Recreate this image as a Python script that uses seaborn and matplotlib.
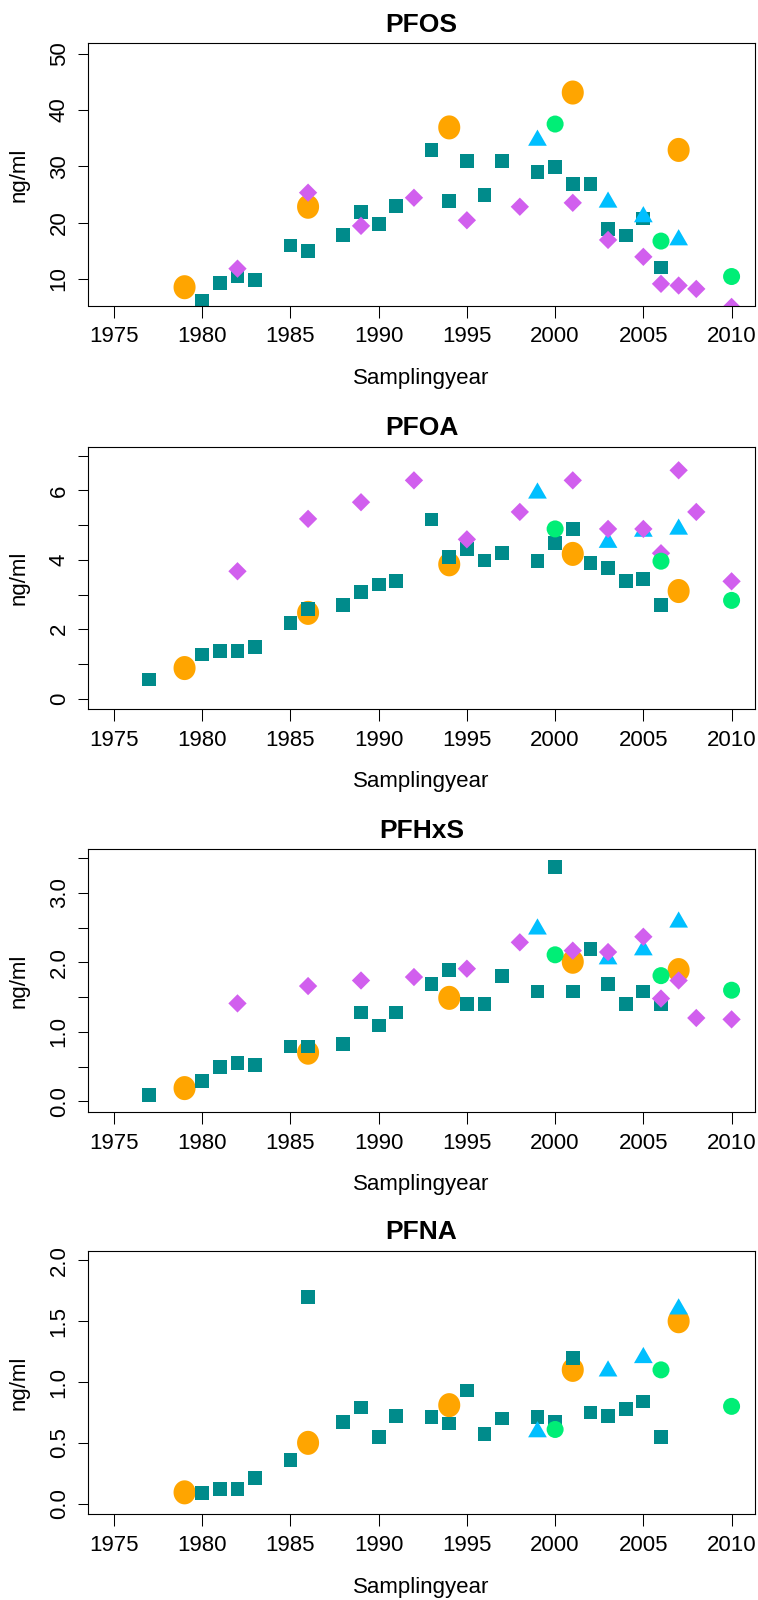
import numpy as np
import seaborn as sns
import matplotlib.pyplot as plt

# values, ng/ml by sampling year
nan = np.nan

teal_years = [1977, 1980, 1981, 1982, 1983, 1985, 1986, 1988, 1989, 1990, 1991, 1993,
              1994, 1995, 1996, 1997, 1999, 2000, 2001, 2002, 2003, 2004, 2005, 2006]
teal_pfos = [nan, 6.0, 9.3, 10.5, 9.8, 15.9, 15.0, 17.8, 21.9, 19.7, 23.0, 32.9,
             23.8, 30.9, 24.9, 30.9, 29.0, 29.9, 26.8, 26.8, 18.8, 17.7, 20.7, 12.0]
teal_pfoa = [0.55, 1.27, 1.37, 1.37, 1.48, 2.17, 2.59, 2.69, 3.07, 3.29, 3.38, 5.16,
             4.08, 4.32, 3.98, 4.19, 3.96, 4.48, 4.88, 3.90, 3.76, 3.40, 3.45, 2.69]
teal_pfhxs = [0.09, 0.29, 0.49, 0.55, 0.52, 0.79, 0.79, 0.82, 1.28, 1.09, 1.28, 1.69,
              1.89, 1.40, 1.40, 1.81, 1.58, 3.38, 1.58, 2.19, 1.69, 1.40, 1.58, 1.40]
teal_pfna = [nan, 0.085, 0.12, 0.12, 0.21, 0.36, 1.70, 0.67, 0.79, 0.55, 0.72, 0.71,
             0.66, 0.93, 0.57, 0.70, 0.71, 0.67, 1.20, 0.75, 0.72, 0.78, 0.84, 0.55]

orange_years = [1979, 1986, 1994, 2001, 2007]
orange_pfos = [8.5, 22.8, 36.9, 43.1, 32.9]
orange_pfoa = [0.88, 2.47, 3.87, 4.17, 3.10]
orange_pfhxs = [0.19, 0.70, 1.49, 2.01, 1.89]
orange_pfna = [0.093, 0.50, 0.81, 1.10, 1.50]

purple_years = [1982, 1986, 1989, 1992, 1995, 1998, 2001, 2003, 2005, 2006, 2007, 2008, 2010]
purple_pfos = [11.8, 25.3, 19.4, 24.4, 20.4, 22.8, 23.5, 16.9, 13.9, 9.1, 8.8, 8.2, 5.0]
purple_pfoa = [3.67, 5.18, 5.66, 6.29, 4.59, 5.38, 6.29, 4.89, 4.89, 4.19, 6.58, 5.38, 3.38]
purple_pfhxs = [1.41, 1.66, 1.74, 1.79, 1.91, 2.29, 2.17, 2.15, 2.37, 1.48, 1.74, 1.20, 1.18]
purple_pfna = [nan] * 13

blue_years = [1999, 2003, 2005, 2007]
blue_pfos = [34.6, 23.6, 21.0, 16.9]
blue_pfoa = [5.92, 4.50, 4.82, 4.88]
blue_pfhxs = [2.48, 2.05, 2.18, 2.58]
blue_pfna = [0.59, 1.09, 1.20, 1.60]

green_years = [2000, 2006, 2010]
green_pfos = [37.5, 16.7, 10.4]
green_pfoa = [4.89, 3.96, 2.83]
green_pfhxs = [2.11, 1.81, 1.60]
green_pfna = [0.61, 1.10, 0.80]

titles = ['PFOS', 'PFOA', 'PFHxS', 'PFNA']
xticks = [1975, 1980, 1985, 1990, 1995, 2000, 2005, 2010]
yticks = [[10, 20, 30, 40, 50],
          [0, 1, 2, 3, 4, 5, 6, 7],
          [0, 0.5, 1, 1.5, 2, 2.5, 3, 3.5],
          [0, 0.5, 1, 1.5, 2]]
ytick_labels = [['10', '20', '30', '40', '50'],
                ['0', '', '2', '', '4', '', '6', ''],
                ['0.0', '', '1.0', '', '2.0', '', '3.0', ''],
                ['0.0', '0.5', '1.0', '1.5', '2.0']]
ylims = [(5.25, 51.85), (-0.3, 7.26), (-0.15, 3.63), (-0.085, 2.08)]

sns.set_theme(style='white')
plt.rcParams['font.family'] = ['Liberation Sans', 'DejaVu Sans']
plt.rcParams['text.color'] = 'black'
plt.rcParams['axes.labelcolor'] = 'black'
plt.rcParams['xtick.color'] = 'black'
plt.rcParams['ytick.color'] = 'black'

# R-like filled symbols
t = np.linspace(0, 2 * np.pi, 60)
ellipse = list(zip(0.458 * np.cos(t), 0.5 * np.sin(t)))
triangle = [(0, 0.577), (-0.5, -0.2887), (0.5, -0.2887)]

series = [
    (orange_years, [orange_pfos, orange_pfoa, orange_pfhxs, orange_pfna], '#FFA500', ellipse, 300),
    (teal_years, [teal_pfos, teal_pfoa, teal_pfhxs, teal_pfna], '#008B8B', 's', 98),
    (blue_years, [blue_pfos, blue_pfoa, blue_pfhxs, blue_pfna], '#00BFFF', triangle, 242),
    (purple_years, [purple_pfos, purple_pfoa, purple_pfhxs, purple_pfna], '#D15FEE', 'D', 87),
    (green_years, [green_pfos, green_pfoa, green_pfhxs, green_pfna], '#00EE76', 'o', 150),
]

fig = plt.figure(figsize=(7.58, 16), dpi=100)
tops = [43.3, 446.7, 849.3, 1250.7]
bottoms = [305.5, 709.0, 1111.7, 1514.0]

for i in range(4):
    ax = fig.add_axes([87.5 / 758, 1 - bottoms[i] / 1600, 667.9 / 758,
                       (bottoms[i] - tops[i]) / 1600])
    for years, vals, col, mk, size in series:
        sns.scatterplot(x=years, y=vals[i], ax=ax, color=col, marker=mk, s=size,
                        linewidth=0, edgecolor='none', clip_on=True)
    ax.set_xlim(1973.5, 2011.35)
    ax.set_ylim(*ylims[i])
    ax.set_xticks(xticks)
    ax.set_xticklabels([str(x) for x in xticks])
    ax.set_yticks(yticks[i])
    ax.set_yticklabels(ytick_labels[i], rotation=90, va='center')
    ax.tick_params(axis='x', direction='out', length=8.6, width=0.75, pad=6.5,
                   labelsize=16, colors='black', bottom=True)
    ax.tick_params(axis='y', direction='out', length=7, width=0.75, pad=5.8,
                   labelsize=16, colors='black', left=True)
    for sp in ax.spines.values():
        sp.set_color('black')
        sp.set_linewidth(0.8)
    ax.set_title(titles[i], fontsize=19, fontweight='bold', pad=8.4, color='black')
    ax.set_xlabel('Samplingyear', fontsize=16, color='black')
    ax.set_ylabel('ng/ml', fontsize=16, color='black')
    ax.xaxis.set_label_coords(0.5, -0.238)
    ax.yaxis.set_label_coords(-0.086, 0.5)

fig.savefig('out.png', dpi=100, facecolor='white')
